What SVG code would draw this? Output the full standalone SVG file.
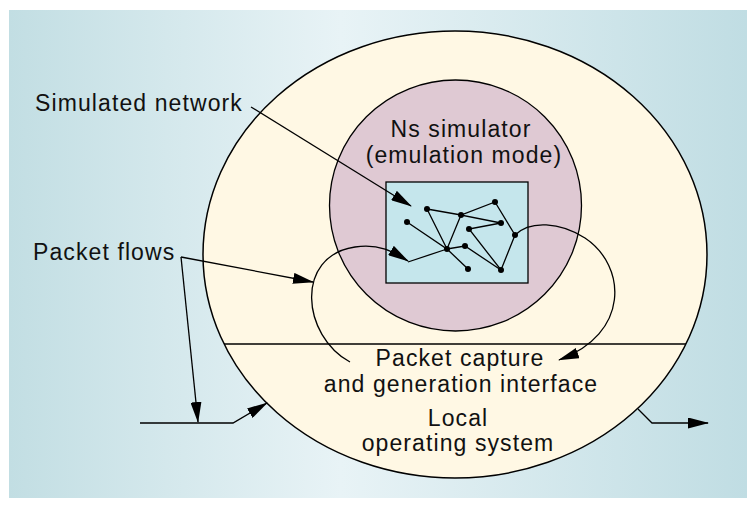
<svg xmlns="http://www.w3.org/2000/svg" width="756" height="506" viewBox="0 0 756 506">
<defs>
<linearGradient id="bg" x1="0" y1="0" x2="1" y2="0">
<stop offset="0" stop-color="#c2dee3"/>
<stop offset="0.45" stop-color="#e8f3f6"/>
<stop offset="1" stop-color="#c0dde3"/>
</linearGradient>
<marker id="ah" markerUnits="userSpaceOnUse" markerWidth="21" markerHeight="11" refX="20" refY="5.5" orient="auto">
<path d="M0,0 L21,5.5 L0,11 z" fill="#000"/>
</marker>
</defs>
<style>
.ln{fill:none;stroke:#000;stroke-width:1.3}
.arr{fill:none;stroke:#000;stroke-width:1.3;marker-end:url(#ah)}
.dot{fill:#000}
.t{font-family:"Liberation Sans",Arial,sans-serif;font-size:23px;letter-spacing:1.1px;fill:#111}
.c{text-anchor:middle}
</style>
<rect x="9" y="10" width="738" height="488" fill="url(#bg)"/>
<g id="local-os">
<ellipse cx="455" cy="254.5" rx="252" ry="223.5" fill="#fff8e4" stroke="#000" stroke-width="1.5"/>
<line class="ln" x1="224" y1="344" x2="686" y2="344"/>
<text class="t c" x="460" y="366">Packet capture</text>
<text class="t c" x="461" y="392">and generation interface</text>
<text class="t c" x="458" y="426">Local</text>
<text class="t c" x="458" y="451">operating system</text>
</g>
<g id="ns-simulator">
<ellipse cx="455.5" cy="205.5" rx="126" ry="125.5" fill="#dfc9d3" stroke="#000" stroke-width="1.3"/>
<text class="t c" x="461" y="137">Ns simulator</text>
<text class="t c" x="464" y="163">(emulation mode)</text>
</g>
<g id="simulated-network">
<rect x="386" y="182" width="142" height="101" fill="#c5e6ec" stroke="#000" stroke-width="1.3"/>
<g class="ln">
<path d="M427,209 L461,215 L495,202 L515,235 L501,270 L469,229 L501,223 L461,215 L447,249 L427,209"/>
<path d="M407,222 L447,249 L465,246 L501,270"/>
<path d="M447,249 L468,269"/>
<path d="M408,262 L447,249"/>
</g>
<g class="dot">
<circle cx="427" cy="209" r="3"/>
<circle cx="407" cy="222" r="3"/>
<circle cx="461" cy="215" r="3"/>
<circle cx="495" cy="202" r="3"/>
<circle cx="501" cy="223" r="3"/>
<circle cx="469" cy="229" r="3"/>
<circle cx="515" cy="235" r="3"/>
<circle cx="447" cy="249" r="3"/>
<circle cx="465" cy="246" r="3"/>
<circle cx="468" cy="269" r="3"/>
<circle cx="501" cy="270" r="3"/>
</g>
</g>
<g id="label-simulated-network">
<text class="t" x="35" y="111">Simulated network</text>
</g>
<g id="label-packet-flows">
<text class="t" x="33" y="260">Packet flows</text>
</g>
<g id="connectors">
<path class="arr" d="M251,107 L411,206"/>
<path class="arr" d="M181,257 L313,282"/>
<path class="arr" d="M181,257 L198,422"/>
<path class="arr" d="M350,362 C302,336 294,256 355,247 C380,243 395,253 408,261"/>
<path class="arr" d="M515,235 C530,220 560,222 585,238 C627,266 630,334 559,360"/>
<path class="arr" d="M140,423 L233,423 L267,403"/>
<path class="arr" d="M638,409 L652,423 L708,423"/>
</g>
</svg>
